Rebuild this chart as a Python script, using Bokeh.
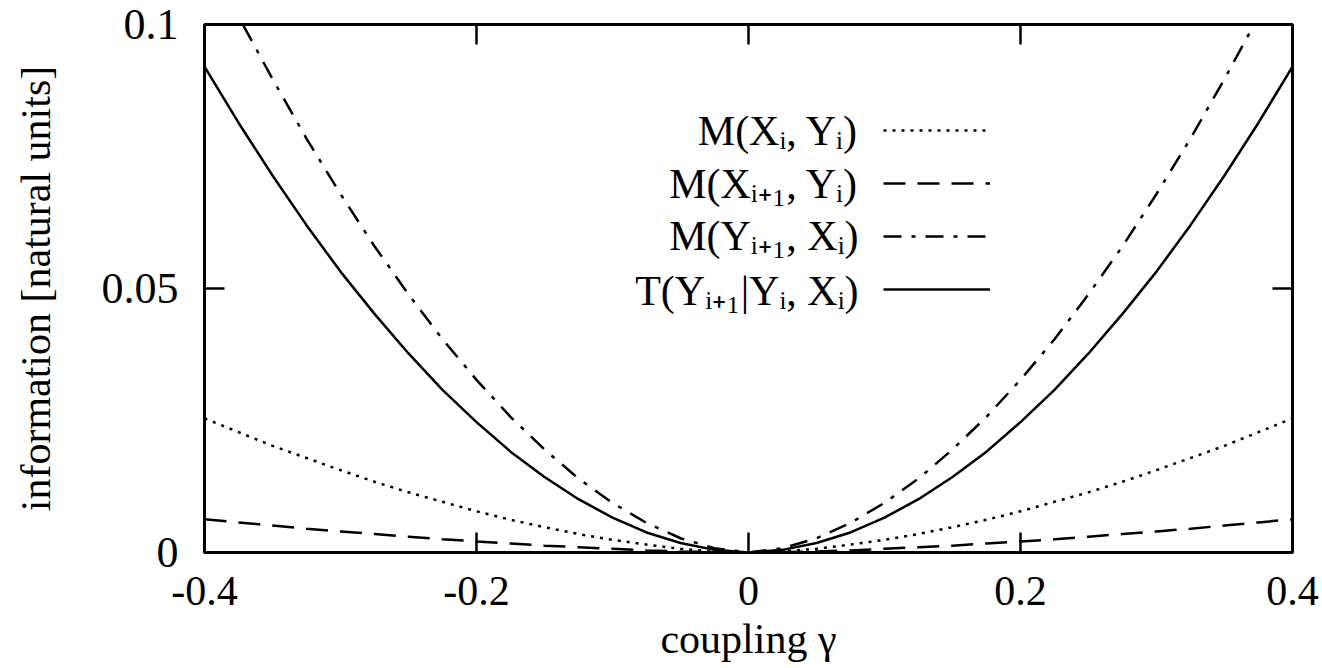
from bokeh.plotting import figure
from bokeh.models import (Range1d, FixedTicker, NumeralTickFormatter, LinearAxis,
                          Legend, LegendItem, Label, ColumnDataSource)
from bokeh.embed import file_html
from bokeh.resources import INLINE

# ---- data ----
gamma = [-0.400, -0.375, -0.350, -0.325, -0.300, -0.275, -0.250, -0.225, -0.200,
         -0.175, -0.150, -0.125, -0.100, -0.075, -0.050, -0.025, 0.000,
         0.025, 0.050, 0.075, 0.100, 0.125, 0.150, 0.175, 0.200,
         0.225, 0.250, 0.275, 0.300, 0.325, 0.350, 0.375, 0.400]
m_xi_yi = [0.0254, 0.0228, 0.0202, 0.0179, 0.0156, 0.0134, 0.0114, 0.0096, 0.0078,
           0.0062, 0.0048, 0.0035, 0.0024, 0.0015, 0.0007, 0.0002, 0.0,
           0.0002, 0.0007, 0.0015, 0.0024, 0.0035, 0.0048, 0.0062, 0.0078,
           0.0096, 0.0114, 0.0134, 0.0156, 0.0179, 0.0202, 0.0228, 0.0254]
m_xi1_yi = [0.0063, 0.0057, 0.0051, 0.0045, 0.0040, 0.0035, 0.0030, 0.0025, 0.0021,
            0.0017, 0.0013, 0.0010, 0.0007, 0.0004, 0.0002, 0.0001, 0.0,
            0.0001, 0.0002, 0.0004, 0.0007, 0.0010, 0.0013, 0.0017, 0.0021,
            0.0025, 0.0030, 0.0035, 0.0040, 0.0045, 0.0051, 0.0057, 0.0063]
m_yi1_xi = [0.114, 0.1015, 0.0897, 0.0784, 0.0679, 0.0580, 0.0489, 0.0404, 0.0327,
            0.0257, 0.0195, 0.0140, 0.0094, 0.0056, 0.0027, 0.0008, 0.0,
            0.0008, 0.0027, 0.0056, 0.0094, 0.0140, 0.0195, 0.0257, 0.0327,
            0.0404, 0.0489, 0.0580, 0.0679, 0.0784, 0.0897, 0.1015, 0.114]
t_yi1 = [0.092, 0.0814, 0.0714, 0.0620, 0.0532, 0.0452, 0.0377, 0.0308, 0.0247,
         0.0191, 0.0143, 0.0101, 0.0066, 0.0038, 0.0018, 0.0005, 0.0,
         0.0005, 0.0018, 0.0038, 0.0066, 0.0101, 0.0143, 0.0191, 0.0247,
         0.0308, 0.0377, 0.0452, 0.0532, 0.0620, 0.0714, 0.0814, 0.092]

labels = ["M(Xᵢ, Yᵢ)", "M(Xᵢ₊₁, Yᵢ)", "M(Yᵢ₊₁, Xᵢ)", "T(Yᵢ₊₁|Yᵢ, Xᵢ)"]
x_ticks = [-0.4, -0.2, 0.0, 0.2, 0.4]
y_ticks = [0.0, 0.05, 0.1]

FONT = "Liberation Serif"

p = figure(width=1322, height=668, output_backend="svg", toolbar_location=None,
           x_range=Range1d(-0.4, 0.4), y_range=Range1d(0.0, 0.1),
           min_border_left=204, min_border_right=30, min_border_top=24,
           min_border_bottom=116)
p.grid.visible = False
p.outline_line_color = "black"
p.outline_line_width = 3
p.background_fill_color = "white"
p.border_fill_color = "white"

src = ColumnDataSource(dict(g=gamma, a=m_xi_yi, b=m_xi1_yi, c=m_yi1_xi, d=t_yi1))
r1 = p.line("g", "a", source=src, line_color="black", line_width=2.5, line_dash="3 6")
r2 = p.line("g", "b", source=src, line_color="black", line_width=2.5, line_dash="22 12")
r3 = p.line("g", "c", source=src, line_color="black", line_width=2.5, line_dash="18 10 4 10")
r4 = p.line("g", "d", source=src, line_color="black", line_width=2.5)

for ax in (p.xaxis[0], p.yaxis[0]):
    ax.axis_line_width = 3
    ax.major_tick_in = 20
    ax.major_tick_out = 0
    ax.major_tick_line_width = 2.5
    ax.minor_tick_line_color = None
    ax.major_label_text_font = FONT
    ax.axis_label_text_font = FONT
    ax.axis_label_text_font_style = "normal"
    ax.axis_label_text_font_size = "42px"
    ax.major_label_text_color = "black"
    ax.axis_label_text_color = "black"

p.xaxis[0].ticker = FixedTicker(ticks=x_ticks)
p.xaxis[0].formatter = NumeralTickFormatter(format="0.[0]")
p.xaxis[0].major_label_text_font_size = "42px"
p.xaxis[0].major_label_standoff = 24
p.xaxis[0].axis_label = "coupling γ"
p.xaxis[0].axis_label_standoff = 8

p.yaxis[0].ticker = FixedTicker(ticks=y_ticks)
p.yaxis[0].formatter = NumeralTickFormatter(format="0.[00]")
p.yaxis[0].major_label_text_font_size = "44px"
p.yaxis[0].major_label_standoff = 26
p.yaxis[0].axis_label = "information [natural units]"
p.yaxis[0].axis_label_standoff = 40

# mirrored ticks on top and right (no labels drawn)
top = LinearAxis(ticker=FixedTicker(ticks=x_ticks), axis_line_color=None,
                 major_tick_in=20, major_tick_out=0, major_tick_line_width=2.5,
                 minor_tick_line_color=None, major_label_text_color=None,
                 major_label_standoff=0)
right = LinearAxis(ticker=FixedTicker(ticks=y_ticks), axis_line_color=None,
                   major_tick_in=20, major_tick_out=0, major_tick_line_width=2.5,
                   minor_tick_line_color=None, major_label_text_color=None,
                   major_label_standoff=0)
p.add_layout(top, "above")
p.add_layout(right, "right")

# legend: line samples on the right, text right-aligned to their left
items = [LegendItem(label=" ", renderers=[r]) for r in (r1, r2, r3, r4)]
leg = Legend(items=items, location=(679, 253), padding=0, margin=0,
             border_line_color=None, background_fill_alpha=0,
             glyph_width=107, glyph_height=20, label_height=20, label_width=0,
             label_standoff=0, label_text_font_size="20px", label_text_color=None,
             spacing=33)
p.add_layout(leg)

row_y = [422, 369, 317, 262]
for lab, yy in zip(labels, row_y):
    p.add_layout(Label(x=654, y=yy, x_units="screen", y_units="screen", text=lab,
                       text_align="right", text_baseline="middle",
                       text_font=FONT, text_font_size="42px", text_color="black"))

open("out.html", "w").write(file_html(p, INLINE))
